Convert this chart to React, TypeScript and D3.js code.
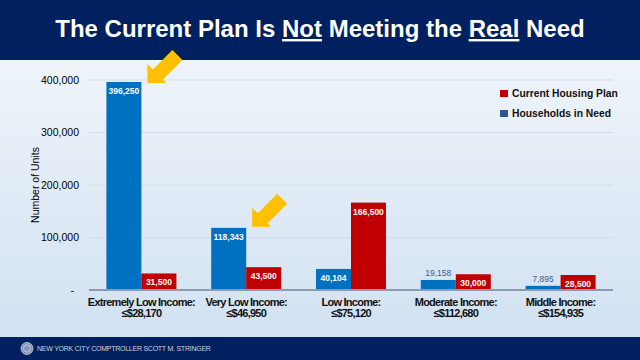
import React from "react";
import * as d3 from "d3";

// chart data
const categories = [
  ["Extremely Low Income:", "≤$28,170"],
  ["Very Low Income:", "≤$46,950"],
  ["Low Income:", "≤$75,120"],
  ["Moderate Income:", "≤$112,680"],
  ["Middle Income:", "≤$154,935"],
];
const householdsInNeed = [396250, 118343, 40104, 19158, 7895];
const currentPlan = [31500, 43500, 166500, 30000, 28500];
const yTicks = [0, 100000, 200000, 300000, 400000];
const seriesNames = ["Households in Need", "Current Housing Plan"];
const arrowTargets = [0, 1]; // groups whose blue bar gets an arrow

const W = 640;
const H = 360;
const NAVY = "#002060";
const BLUE = "#0070C0";
const RED = "#C00000";
const FONT = "'Liberation Sans', Arial, sans-serif";

const margin = { top: 80, right: 27, bottom: 70, left: 89 };

export default function App() {
  const x = d3
    .scaleBand<number>()
    .domain(d3.range(categories.length))
    .range([margin.left, W - margin.right])
    .paddingInner(0.332)
    .paddingOuter(0.166);
  const sub = d3
    .scaleBand<number>()
    .domain([0, 1])
    .range([0, x.bandwidth()]);
  const y = d3
    .scaleLinear()
    .domain([0, 400000])
    .range([H - margin.bottom, margin.top]);

  const fmt = d3.format(",");
  const series = [householdsInNeed, currentPlan];
  const colors = [BLUE, RED];

  // arrow polygon pointing down-left, tip at (tx, ty)
  const arrowPath = (tx: number, ty: number) => {
    const pts = [
      [0, 0],
      [0, -19],
      [5.5, -13.5],
      [25, -33],
      [35, -23],
      [15.5, -3.5],
      [19, 0],
    ];
    return d3.line()(pts.map(([a, b]) => [tx + a, ty + b]) as [number, number][]) + "Z";
  };

  return (
    <div style={{ width: W, height: H, position: "absolute", left: 0, top: 0 }}>
      <svg width={W} height={H} style={{ display: "block", fontFamily: FONT }}>
        <defs>
          <linearGradient id="bg" x1="0" y1="0" x2="0" y2="1">
            <stop offset="0%" stopColor="#f5f8fc" />
            <stop offset="100%" stopColor="#cfe0f1" />
          </linearGradient>
        </defs>
        <rect x={0} y={0} width={W} height={H} fill="url(#bg)" />

        {/* gridlines */}
        {yTicks.slice(1).map((t) => (
          <line
            key={t}
            x1={margin.left}
            x2={W - margin.right}
            y1={y(t)}
            y2={y(t)}
            stroke="#d6dde6"
            strokeWidth={1}
          />
        ))}

        {/* y tick labels */}
        {yTicks.map((t) => (
          <text
            key={t}
            x={t === 0 ? 74 : 79}
            y={y(t)}
            dy="0.35em"
            textAnchor="end"
            fontSize={10.5}
            fill="#000"
          >
            {t === 0 ? "-" : fmt(t)}
          </text>
        ))}

        <text
          transform={`translate(39, ${(y(0) + y(400000)) / 2}) rotate(-90)`}
          textAnchor="middle"
          fontSize={10.5}
          fill="#000"
        >
          Number  of Units
        </text>

        {/* bars */}
        {categories.map((_, i) => (
          <g key={i} transform={`translate(${x(i)},0)`}>
            {series.map((vals, s) => {
              const v = vals[i];
              const bx = sub(s)!;
              const bw = sub.bandwidth();
              const top = y(v);
              const h = y(0) - top;
              const inside = h > 12;
              return (
                <g key={s}>
                  <rect x={bx} y={top} width={bw} height={h} fill={colors[s]} />
                  <text
                    x={bx + bw / 2}
                    y={inside ? top + 9 : top - 7}
                    dy="0.35em"
                    textAnchor="middle"
                    fontSize={8.5}
                    fontWeight={inside ? "bold" : "normal"}
                    fill={inside ? "#fff" : "#3b5a99"}
                  >
                    {fmt(v)}
                  </text>
                </g>
              );
            })}
          </g>
        ))}

        {/* x axis */}
        <line
          x1={margin.left}
          x2={W - margin.right}
          y1={y(0)}
          y2={y(0)}
          stroke="#8b9bb0"
          strokeWidth={2}
        />

        {categories.map((lines, i) => (
          <text
            key={i}
            x={x(i)! + x.bandwidth() / 2}
            textAnchor="middle"
            fontSize={11}
            fontWeight="bold"
            letterSpacing={-0.75}
            fill="#111"
          >
            <tspan x={x(i)! + x.bandwidth() / 2} y={306}>
              {lines[0]}
            </tspan>
            <tspan x={x(i)! + x.bandwidth() / 2} y={317}>
              {lines[1]}
            </tspan>
          </text>
        ))}

        {/* legend */}
        {[1, 0].map((s, k) => (
          <g key={s} transform={`translate(500, ${90 + k * 20})`}>
            <rect x={0} y={0} width={8} height={7} fill={s === 1 ? RED : "#2f5597"} />
            <text x={12} y={7} fontSize={10.3} fontWeight="bold" fill="#111">
              {seriesNames[s]}
            </text>
          </g>
        ))}

        {/* header */}
        <rect x={0} y={0} width={W} height={60} fill={NAVY} />
        <text
          x={W / 2}
          y={37}
          textAnchor="middle"
          fontSize={24}
          fontWeight="bold"
          fill="#fff"
          letterSpacing={0}
        >
          The Current Plan Is{" "}
          <tspan textDecoration="underline">Not</tspan> Meeting the{" "}
          <tspan textDecoration="underline">Real</tspan> Need
        </text>

        {/* arrows */}
        {arrowTargets.map((i) => {
          const tx = x(i)! + sub.bandwidth() + 6;
          const ty = y(householdsInNeed[i]) + (i === 0 ? 1 : -1);
          return <path key={i} d={arrowPath(tx, ty)} fill="#FFC000" />;
        })}

        {/* footer */}
        <rect x={0} y={337} width={W} height={H - 337} fill={NAVY} />
        <circle cx={27} cy={348.5} r={6} fill="#8796b8" stroke="#c8d0e0" strokeWidth={0.8} />
        <circle cx={27} cy={348.5} r={3.5} fill="none" stroke="#dfe4ee" strokeWidth={0.6} />
        <text x={37} y={351} fontSize={7} fill="#c9d1e2" letterSpacing={-0.25}>
          NEW YORK CITY COMPTROLLER  SCOTT M. STRINGER
        </text>
      </svg>
    </div>
  );
}
